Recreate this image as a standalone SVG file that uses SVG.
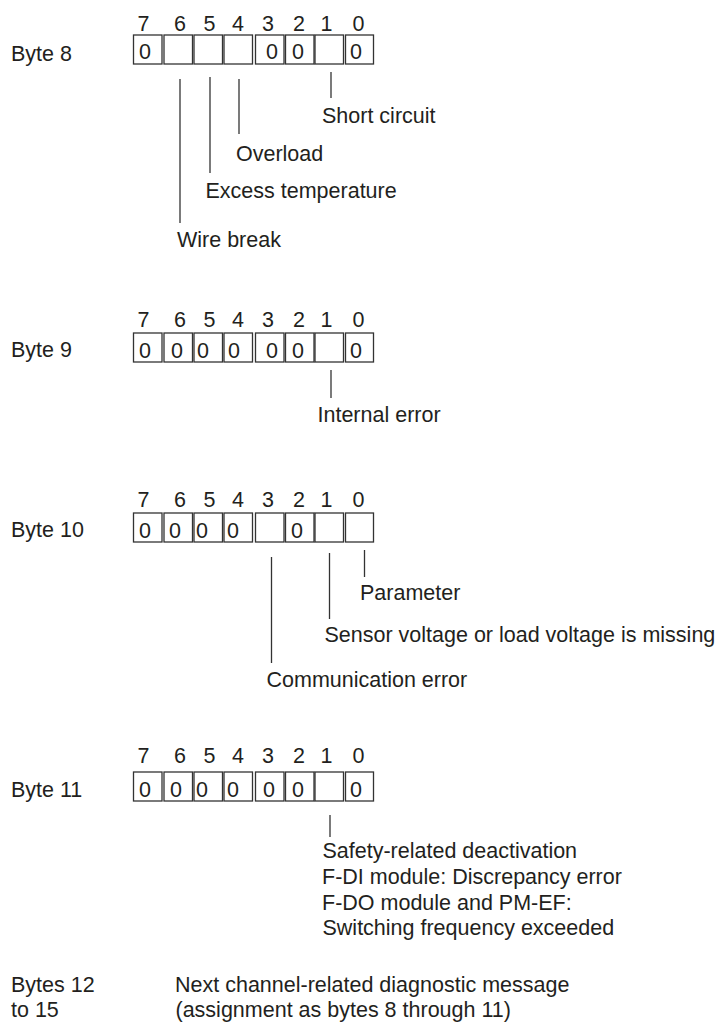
<svg xmlns="http://www.w3.org/2000/svg" width="720" height="1023" viewBox="0 0 720 1023">
<style>
text{font-family:"Liberation Sans",Arial,sans-serif;font-size:21.5px;fill:#231f20}
.bit{text-anchor:middle}
.box{fill:#fff;stroke:#333;stroke-width:1.3}
.ln{stroke:#333;stroke-width:1.3;fill:none}
</style>
<defs>
<g id="boxes">
<rect class="box" x="133.5" y="0" width="28.5" height="29"/>
<rect class="box" x="164" y="0" width="28.5" height="29"/>
<rect class="box" x="194" y="0" width="28.5" height="29"/>
<rect class="box" x="224" y="0" width="28.5" height="29"/>
<rect class="box" x="255.5" y="0" width="28.5" height="29"/>
<rect class="box" x="285.5" y="0" width="28.5" height="29"/>
<rect class="box" x="315" y="0" width="28.5" height="29"/>
<rect class="box" x="345.5" y="0" width="28" height="29"/>
</g>
<g id="bits">
<text class="bit" x="143.5" y="0">7</text>
<text class="bit" x="180" y="0">6</text>
<text class="bit" x="209.5" y="0">5</text>
<text class="bit" x="238" y="0">4</text>
<text class="bit" x="268" y="0">3</text>
<text class="bit" x="299" y="0">2</text>
<text class="bit" x="326.5" y="0">1</text>
<text class="bit" x="358.5" y="0">0</text>
</g>
</defs>

<g id="byte8">
<use href="#bits" y="31"/>
<text x="11" y="61">Byte 8</text>
<use href="#boxes" y="35"/>
<text x="139" y="59">0</text>
<text x="266" y="59">0</text>
<text x="292" y="59">0</text>
<text x="350" y="59">0</text>
</g>
<g id="byte9">
<use href="#bits" y="327"/>
<text x="11" y="357">Byte 9</text>
<use href="#boxes" y="333"/>
<text x="139" y="358">0</text>
<text x="171" y="358">0</text>
<text x="197" y="358">0</text>
<text x="228" y="358">0</text>
<text x="266" y="358">0</text>
<text x="292" y="358">0</text>
<text x="350" y="358">0</text>
</g>
<g id="byte10">
<use href="#bits" y="507"/>
<text x="11" y="537">Byte 10</text>
<use href="#boxes" y="513"/>
<text x="139" y="537.5">0</text>
<text x="169" y="537.5">0</text>
<text x="196" y="537.5">0</text>
<text x="227" y="537.5">0</text>
<text x="291" y="537.5">0</text>
</g>
<g id="byte11">
<use href="#bits" y="763"/>
<text x="11" y="797">Byte 11</text>
<use href="#boxes" y="772"/>
<text x="139" y="796.5">0</text>
<text x="170" y="796.5">0</text>
<text x="196" y="796.5">0</text>
<text x="227" y="796.5">0</text>
<text x="263" y="796.5">0</text>
<text x="292" y="796.5">0</text>
<text x="350" y="796.5">0</text>
</g>

<g id="labels">
<text x="322" y="123">Short circuit</text>
<text x="236" y="161">Overload</text>
<text x="205.5" y="198">Excess temperature</text>
<text x="177" y="247">Wire break</text>
<text x="317.5" y="422">Internal error</text>
<text x="360" y="600">Parameter</text>
<text x="324.5" y="641.5">Sensor voltage or load voltage is missing</text>
<text x="266.5" y="686.5">Communication error</text>
<text x="322.5" y="858">Safety-related deactivation</text>
<text x="322" y="884">F-DI module: Discrepancy error</text>
<text x="322" y="910">F-DO module and PM-EF:</text>
<text x="322.5" y="935">Switching frequency exceeded</text>
</g>
<g id="bytes12to15">
<text x="11" y="991.5">Bytes 12</text>
<text x="11" y="1016.5">to 15</text>
<text x="175" y="991.5">Next channel-related diagnostic message</text>
<text x="175.5" y="1016.5">(assignment as bytes 8 through 11)</text>
</g>

<g id="connectors">
<line class="ln" x1="180" y1="79" x2="180" y2="223"/>
<line class="ln" x1="210" y1="77" x2="210" y2="173"/>
<line class="ln" x1="239" y1="79" x2="239" y2="134"/>
<line class="ln" x1="331" y1="72" x2="331" y2="98"/>
<line class="ln" x1="331" y1="370" x2="331" y2="398"/>
<line class="ln" x1="364.5" y1="550" x2="364.5" y2="577"/>
<line class="ln" x1="329.5" y1="553" x2="329.5" y2="619"/>
<line class="ln" x1="271.5" y1="557" x2="271.5" y2="663"/>
<line class="ln" x1="330" y1="815" x2="330" y2="837"/>
</g>
</svg>
